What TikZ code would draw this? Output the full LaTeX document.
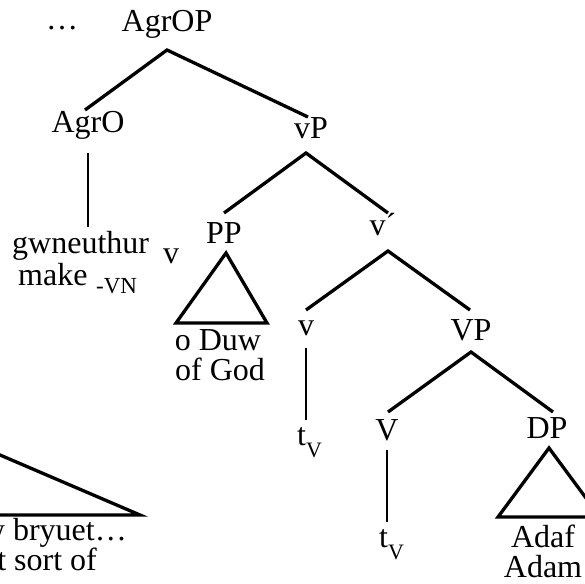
\documentclass[tikz,border=0pt]{standalone}
\usepackage{fontspec}
\setmainfont{Liberation Serif}
\newcommand{\lowsub}[1]{\raisebox{-0.38em}{\fontsize{22}{22}\selectfont #1}}
\begin{document}
\begin{tikzpicture}[x=1pt,y=-1pt,
  lab/.style={anchor=base,inner sep=0pt,font=\fontsize{32}{36}\selectfont},
  sublab/.style={anchor=base west,inner sep=0pt,font=\fontsize{23}{26}\selectfont},
  branch/.style={line width=3.3pt,line join=miter},
  stem/.style={line width=2.7pt},
  tri/.style={line width=3.3pt,line join=miter}]
\useasboundingbox (0,0) rectangle (585,583);
\clip (0,0) rectangle (585,583);

% labels
\node[lab] (dots) at (62,30) {…};
\node[lab] (agrop) at (167,32) {AgrOP};
\node[lab] (agro) at (88,132) {AgrO};
\node[lab] (vp) at (311,138) {vP};
\node[lab] (pp) at (224,243) {PP};
\node[lab] (vbar) at (383,235) {v´};
\node[lab,anchor=base west] (gw) at (12,253) {gwneuthur};
\node[lab,anchor=base west] (make) at (18,285) {make};
\node[sublab] (vn) at (96,293) {-VN};
\node[lab,anchor=base west] (vaff) at (163,263) {v};
\node[lab] (oduw) at (218,350) {o Duw};
\node[lab] (ofgod) at (220,380) {of God};
\node[lab] (vlow) at (306,335) {v};
\node[lab] (bigvp) at (471,340) {VP};
\node[lab,anchor=base west] (tva) at (297,445) {t\lowsub{V}};
\node[lab] (bigv) at (387,440) {V};
\node[lab,anchor=base west] (tvb) at (379,547) {t\lowsub{V}};
\node[lab] (dp) at (547,438) {DP};
\node[lab] (adaf) at (543,547) {Adaf};
\node[lab] (adam) at (543,577) {Adam};
\node[lab,anchor=base east] (bryuet) at (127,540) {w bryuet…};
\node[lab,anchor=base east] (sortof) at (97,570) {t sort of};

% joints
\coordinate (agrop-j) at (167,50);
\coordinate (agro-t) at (85,110);
\coordinate (vp-t) at (308,117);
\coordinate (vp-j) at (306,153);
\coordinate (pp-t) at (224,213);
\coordinate (vbar-t) at (388,213);
\coordinate (vbar-j) at (388,251);
\coordinate (vlow-t) at (306,310);
\coordinate (bigvp-t) at (470,310);
\coordinate (bigvp-j) at (471,352);
\coordinate (bigv-t) at (388,412);
\coordinate (dp-t) at (553,412);
\coordinate (agro-a) at (88,153);
\coordinate (agro-b) at (88,227);
\coordinate (vlow-a) at (306,348);
\coordinate (vlow-b) at (306,420);
\coordinate (bigv-a) at (387,450);
\coordinate (bigv-b) at (387,522);
\coordinate (pp-apex) at (226,253);
\coordinate (pp-l) at (176,323);
\coordinate (pp-r) at (267,323);
\coordinate (dp-apex) at (549,448);
\coordinate (dp-l) at (498,517);
\coordinate (dp-r) at (600,517);
\coordinate (np-apex) at (-140,395);
\coordinate (np-l) at (-220,515);
\coordinate (np-r) at (140,515);

% branches
\draw[branch] (agro-t) -- (agrop-j) -- (vp-t);
\draw[branch] (pp-t) -- (vp-j) -- (vbar-t);
\draw[branch] (vlow-t) -- (vbar-j) -- (bigvp-t);
\draw[branch] (bigv-t) -- (bigvp-j) -- (dp-t);

% unary stems
\draw[stem] (agro-a) -- (agro-b);
\draw[stem] (vlow-a) -- (vlow-b);
\draw[stem] (bigv-a) -- (bigv-b);

% triangles
\draw[tri] (pp-apex) -- (pp-r) -- (pp-l) -- cycle;
\draw[tri] (dp-apex) -- (dp-r) -- (dp-l) -- cycle;
\draw[tri] (np-apex) -- (np-r) -- (np-l) -- cycle;
\end{tikzpicture}
\end{document}
